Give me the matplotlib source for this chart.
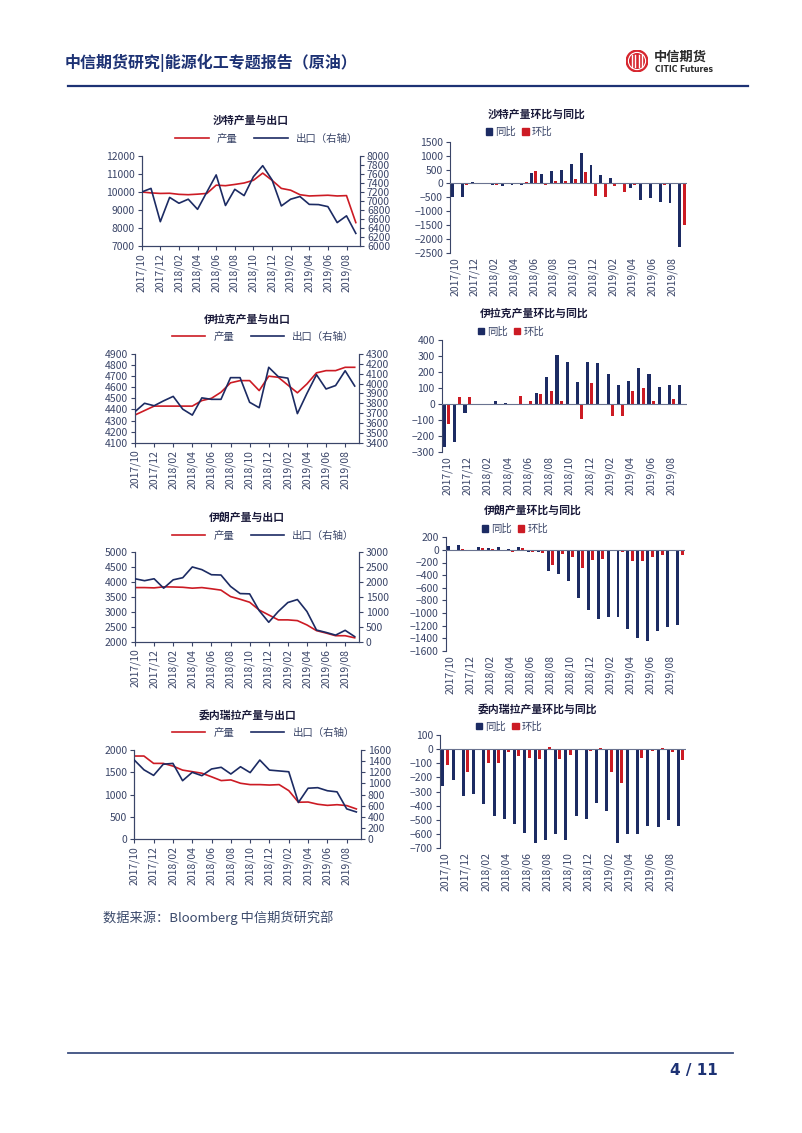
import matplotlib
matplotlib.use('Agg')
import matplotlib.pyplot as plt
from matplotlib.lines import Line2D
from matplotlib.patches import Patch, Circle
import numpy as np

plt.rcParams['font.family'] = ['Noto Sans CJK SC', 'DejaVu Sans']

# ---------------- data ----------------
months = ['2017/10', '2017/11', '2017/12', '2018/01', '2018/02', '2018/03', '2018/04', '2018/05',
          '2018/06', '2018/07', '2018/08', '2018/09', '2018/10', '2018/11', '2018/12', '2019/01',
          '2019/02', '2019/03', '2019/04', '2019/05', '2019/06', '2019/07', '2019/08', '2019/09']

sa_prod = [10000, 9950, 9920, 9930, 9870, 9850, 9880, 9920, 10380, 10350, 10420, 10500,
           10650, 11050, 10650, 10200, 10100, 9850, 9780, 9800, 9820, 9780, 9800, 8300]
sa_exp = [7200, 7280, 6540, 7080, 6950, 7040, 6815, 7200, 7580, 6900, 7260, 7120,
          7540, 7785, 7470, 6890, 7040, 7100, 6925, 6920, 6875, 6520, 6670, 6280]
sa_yoy = [-500, -500, 50, 10, -50, -80, -50, -40, 380, 350, 430, 500,
          700, 1100, 680, 300, 200, -30, -170, -580, -540, -650, -690, -2300]
sa_mom = [10, -60, -30, 10, -70, -30, 20, 60, 450, -40, 70, 70,
          150, 400, -450, -480, -100, -300, -60, 20, -10, -40, 20, -1480]

iq_prod = [4350, 4390, 4430, 4430, 4430, 4430, 4430, 4480, 4500, 4555, 4640, 4660,
           4660, 4570, 4700, 4690, 4620, 4550, 4630, 4730, 4750, 4750, 4780, 4780]
iq_exp = [3715, 3800, 3775, 3825, 3870, 3740, 3680, 3855, 3840, 3840, 4060, 4060,
          3810, 3755, 4165, 4070, 4055, 3695, 3900, 4090, 3945, 3980, 4130, 3975]
iq_yoy = [-270, -240, -60, -10, 0, 15, 8, 0, 0, 70, 170, 305,
          265, 135, 265, 255, 185, 115, 145, 225, 185, 105, 115, 115]
iq_mom = [-125, 40, 40, 0, 0, -5, 0, 50, 20, 60, 80, 20,
          -10, -95, 130, -10, -75, -75, 80, 100, 20, 0, 30, 0]

ir_prod = [3810, 3810, 3800, 3835, 3830, 3820, 3790, 3810, 3770, 3725, 3510, 3420,
           3320, 3060, 2895, 2730, 2730, 2705, 2560, 2370, 2290, 2200, 2200, 2130]
ir_exp = [2105, 2040, 2105, 1790, 2070, 2140, 2500, 2410, 2240, 2230, 1850, 1610,
          1600, 1040, 650, 1010, 1310, 1410, 1010, 390, 310, 220, 380, 170]
ir_yoy = [60, 80, -10, 40, 35, 40, 15, 40, -40, -40, -330, -380,
          -500, -760, -950, -1090, -1070, -1070, -1260, -1400, -1450, -1290, -1220, -1190]
ir_mom = [-25, 10, -20, 30, 15, -20, -35, 25, -35, -45, -240, -70,
          -110, -285, -155, -150, 0, -30, -170, -170, -110, -75, 0, -80]

ve_prod = [1865, 1865, 1700, 1700, 1640, 1550, 1515, 1480, 1400, 1315, 1330, 1255,
           1225, 1225, 1215, 1225, 1090, 830, 835, 785, 760, 775, 755, 680]
ve_exp = [1420, 1245, 1145, 1345, 1360, 1050, 1200, 1140, 1260, 1290, 1170, 1300,
          1195, 1420, 1240, 1225, 1210, 660, 915, 925, 870, 850, 545, 490]
ve_yoy = [-260, -220, -330, -320, -390, -470, -490, -530, -590, -660, -640, -600,
          -640, -470, -490, -380, -440, -660, -600, -600, -540, -550, -500, -540]
ve_mom = [-110, 0, -160, 0, -100, -100, -20, -50, -60, -70, 15, -70,
          -40, 0, -10, 5, -160, -240, 0, -60, -10, 5, -20, -80]

# ---------------- style ----------------
W, H = 802, 1133
NAVY = '#1c2b63'
RED = '#cc1b24'
TXT = '#3a4568'
AX = '#3a4568'
FS = 7.5

fig = plt.figure(figsize=(W / 100, H / 100), dpi=100)


def rect(x0, y0, x1, y1):
    return [x0 / W, 1 - y1 / H, (x1 - x0) / W, (y1 - y0) / H]


def fx(px):
    return px / W


def fy(py):
    return 1 - py / H


def style_common(ax):
    for s in ax.spines.values():
        s.set_color(AX)
        s.set_linewidth(0.8)
    ax.tick_params(colors=AX, labelcolor=TXT, labelsize=FS, width=0.8, length=3)


def line_chart(r, title, title_y, leg_y, prod, exp, yl, ytl, yr, ytr):
    x0, y0, x1, y1 = r
    ax = fig.add_axes(rect(*r))
    x = np.arange(len(months))
    ax.plot(x, prod, color=RED, lw=1.2, zorder=2)
    ax2 = ax.twinx()
    ax2.plot(x, exp, color=NAVY, lw=1.2, zorder=3)
    ax.set_xlim(0, 23.45)
    ax.set_ylim(*yl)
    ax.set_yticks(ytl)
    ax2.set_ylim(*yr)
    ax2.set_yticks(ytr)
    ax.set_xticks(x[::2])
    ax.set_xticklabels(months[::2], rotation=90)
    for a in (ax, ax2):
        style_common(a)
        a.spines['top'].set_visible(False)
    ax.tick_params(axis='y', pad=2)
    ax2.tick_params(axis='y', pad=2)
    ax.tick_params(axis='x', pad=2)
    fig.text(fx((x0 + x1) / 2), fy(title_y), title, fontsize=FS + 0.3, weight='bold',
             color='#1a1a3a', ha='center', va='center')
    handles = [Line2D([], [], color=RED, lw=1.2), Line2D([], [], color=NAVY, lw=1.2)]
    fig.legend(handles, ['产量', '出口（右轴）'], loc='center',
               bbox_to_anchor=(fx((x0 + x1) / 2 + 16), fy(leg_y)), ncol=2, frameon=False,
               fontsize=FS, handlelength=3.2, columnspacing=1.6, handletextpad=0.8,
               labelcolor=TXT, borderpad=0, borderaxespad=0)


def bar_chart(r, title, title_y, leg_y, yoy, mom, yl, yt):
    x0, y0, x1, y1 = r
    ax = fig.add_axes(rect(*r))
    x = np.arange(len(months))
    ax.bar(x - 0.22, yoy, width=0.3, color=NAVY, zorder=2)
    ax.bar(x + 0.2, mom, width=0.3, color=RED, zorder=2)
    ax.set_xlim(-0.5, 23.5)
    ax.set_ylim(*yl)
    ax.set_yticks(yt)
    ax.set_xticks(x[::2])
    ax.set_xticklabels(months[::2], rotation=90)
    style_common(ax)
    for s in ('top', 'right', 'bottom'):
        ax.spines[s].set_visible(False)
    ax.axhline(0, color='#6a7390', lw=0.8, zorder=3)
    ax.tick_params(axis='x', length=0, pad=3)
    ax.tick_params(axis='y', pad=2)
    fig.text(fx(x0 + 38), fy(title_y), title, fontsize=FS + 0.3, weight='bold',
             color='#1a1a3a', ha='left', va='center')
    handles = [Patch(color=NAVY), Patch(color=RED)]
    fig.legend(handles, ['同比', '环比'], loc='center left',
               bbox_to_anchor=(fx(x0 + 36), fy(leg_y)), ncol=2, frameon=False,
               fontsize=FS, handlelength=0.6, handleheight=0.6, columnspacing=0.6,
               handletextpad=0.3, labelcolor=TXT, borderpad=0, borderaxespad=0)


# ---- row 1: Saudi
line_chart((141.7, 156, 360, 246), '沙特产量与出口', 120.5, 139, sa_prod, sa_exp,
           (7000, 12000), np.arange(7000, 12001, 1000), (6000, 8000), np.arange(6000, 8001, 200))
bar_chart((450, 141.7, 687, 253), '沙特产量环比与同比', 114, 132, sa_yoy, sa_mom,
          (-2500, 1500), np.arange(-2500, 1501, 500))

# ---- row 2: Iraq
line_chart((135, 354, 359, 442.7), '伊拉克产量与出口', 320, 337, iq_prod, iq_exp,
           (4100, 4900), np.arange(4100, 4901, 100), (3400, 4300), np.arange(3400, 4301, 100))
bar_chart((441.7, 340, 687, 451.7), '伊拉克产量环比与同比', 313, 331.5, iq_yoy, iq_mom,
          (-300, 400), np.arange(-300, 401, 100))

# ---- row 3: Iran
line_chart((135, 552, 359, 641.7), '伊朗产量与出口', 517.5, 536, ir_prod, ir_exp,
           (2000, 5000), np.arange(2000, 5001, 500), (0, 3000), np.arange(0, 3001, 500))
bar_chart((445.7, 537.3, 685, 650.7), '伊朗产量环比与同比', 510.5, 529, ir_yoy, ir_mom,
          (-1600, 200), np.arange(-1600, 201, 200))

# ---- row 4: Venezuela
line_chart((134.3, 750, 360.7, 839.3), '委内瑞拉产量与出口', 715, 733, ve_prod, ve_exp,
           (0, 2000), np.arange(0, 2001, 500), (0, 1600), np.arange(0, 1601, 200))
bar_chart((440, 735, 686, 848.3), '委内瑞拉产量环比与同比', 709, 726.5, ve_yoy, ve_mom,
          (-700, 100), np.arange(-700, 101, 100))

# ---------------- page decoration ----------------
fig.text(fx(65), fy(63), '中信期货研究|能源化工专题报告（原油）', fontsize=11.5, weight='bold',
         color='#1d3274', ha='left', va='center')
fig.add_artist(Line2D([fx(68), fx(748)], [fy(86), fy(86)], color='#1d3274', lw=1.6))

# logo
lax = fig.add_axes(rect(626, 50, 648, 72))
lax.set_xlim(-1, 1)
lax.set_ylim(-1, 1)
lax.set_aspect('equal')
lax.axis('off')
lax.add_patch(Circle((0, 0), 0.98, color='#d7262e'))
lax.add_patch(Circle((0, 0), 0.78, fill=False, ec='white', lw=0.8))
for xv in (-0.45, -0.15, 0.15, 0.45):
    lax.plot([xv, xv], [-0.55, 0.55], color='white', lw=1.0)
fig.text(fx(654), fy(57), '中信期货', fontsize=9.5, weight='bold', color='#2a2a2a',
         ha='left', va='center')
fig.text(fx(655), fy(69), 'CITIC Futures', fontsize=5.5, weight='bold', color='#2a2a2a',
         ha='left', va='center', family=['DejaVu Sans'])

fig.text(fx(103), fy(918), '数据来源：Bloomberg 中信期货研究部', fontsize=9.5,
         color='#3b4a6b', ha='left', va='center')

fig.add_artist(Line2D([fx(68), fx(733)], [fy(1053), fy(1053)], color='#3d4f80', lw=1.3))
fig.text(fx(718), fy(1071), '4 / 11', fontsize=11, weight='bold', color='#1d3274',
         ha='right', va='center', family=['DejaVu Sans'])

fig.savefig('out.png', dpi=100)
